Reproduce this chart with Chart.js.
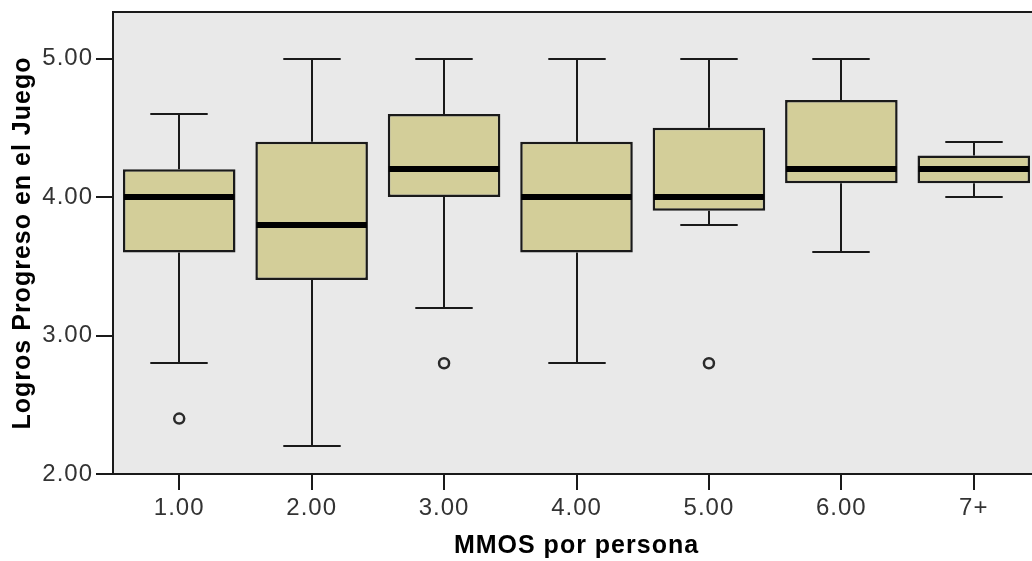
<!DOCTYPE html>
<html>
<head>
<meta charset="utf-8">
<script src="https://cdn.jsdelivr.net/npm/chart.js@4.4.1/dist/chart.umd.min.js"></script>
<style>
  html, body { margin: 0; padding: 0; background: #ffffff; overflow: hidden; }
  #wrap { width: 1032px; height: 561px; overflow: hidden; }
  canvas { display: block; }
</style>
</head>
<body>
<div id="wrap"><canvas id="c" width="1048" height="561"></canvas></div>
<script>
// ---- data ----
const categories = ['1.00', '2.00', '3.00', '4.00', '5.00', '6.00', '7+'];
const whiskerLow  = [2.8, 2.2, 3.2, 2.8, 3.8, 3.6, 4.0];
const q1          = [3.6, 3.4, 4.0, 3.6, 3.9, 4.1, 4.1];
const median      = [4.0, 3.8, 4.2, 4.0, 4.0, 4.2, 4.2];
const q3          = [4.2, 4.4, 4.6, 4.4, 4.5, 4.7, 4.3];
const whiskerHigh = [4.6, 5.0, 5.0, 5.0, 5.0, 5.0, 4.4];
const outliers    = [2.4, null, 2.8, null, 2.8, null, null];
const yTicks      = [2, 3, 4, 5];
const yMin = 2, yMax = 5.336;

const FONT = "'Liberation Sans', Arial, sans-serif";

function setSpacing(chart) {
  if ('letterSpacing' in chart.ctx) chart.ctx.letterSpacing = '1px';
}

const boxPlugin = {
  id: 'boxExtras',
  beforeInit: setSpacing,
  beforeUpdate: setSpacing,
  beforeLayout: setSpacing,
  beforeDraw(chart) {
    setSpacing(chart);
    const {ctx, chartArea: a} = chart;
    ctx.save();
    ctx.fillStyle = '#E9E9E9';
    ctx.fillRect(a.left, a.top, a.right - a.left, a.bottom - a.top);
    ctx.restore();
  },
  afterDatasetsDraw(chart) {
    const {ctx} = chart;
    const y = chart.scales.y;
    const meta = chart.getDatasetMeta(0);
    ctx.save();
    meta.data.forEach((bar, i) => {
      const cx = Math.round(bar.x);
      const w = bar.width;
      const capHalf = w * 0.255;
      const yHi = Math.round(y.getPixelForValue(whiskerHigh[i]));
      const yLo = Math.round(y.getPixelForValue(whiskerLow[i]));
      const yQ3 = y.getPixelForValue(q3[i]);
      const yQ1 = y.getPixelForValue(q1[i]);
      const yMed = Math.round(y.getPixelForValue(median[i]));
      ctx.strokeStyle = '#1a1a1a';
      ctx.lineWidth = 2;
      ctx.beginPath();
      ctx.moveTo(cx, yQ3); ctx.lineTo(cx, yHi);
      ctx.moveTo(cx - capHalf, yHi); ctx.lineTo(cx + capHalf, yHi);
      ctx.moveTo(cx, yQ1); ctx.lineTo(cx, yLo);
      ctx.moveTo(cx - capHalf, yLo); ctx.lineTo(cx + capHalf, yLo);
      ctx.stroke();
      ctx.strokeStyle = '#000000';
      ctx.lineWidth = 6;
      ctx.beginPath();
      ctx.moveTo(bar.x - w / 2 + 1, yMed); ctx.lineTo(bar.x + w / 2 - 1, yMed);
      ctx.stroke();
    });
    ctx.restore();
  },
  afterDraw(chart) {
    const {ctx, chartArea: a} = chart;
    ctx.save();
    ctx.strokeStyle = '#1a1a1a';
    ctx.lineWidth = 2;
    ctx.strokeRect(a.left, a.top, a.right - a.left, a.bottom - a.top);
    ctx.restore();
  }
};

new Chart(document.getElementById('c'), {
  type: 'bar',
  data: {
    labels: categories,
    datasets: [
      {
        type: 'bar',
        data: categories.map((_, i) => [q1[i], q3[i]]),
        backgroundColor: '#D3CE99',
        borderColor: '#1a1a1a',
        borderWidth: 2.5,
        borderSkipped: false,
        barPercentage: 0.85,
        categoryPercentage: 1.0,
        order: 2
      },
      {
        type: 'line',
        data: outliers,
        showLine: false,
        pointRadius: 5,
        pointHoverRadius: 5,
        pointBorderWidth: 2.5,
        pointBorderColor: '#2a2a2a',
        pointBackgroundColor: 'rgba(0,0,0,0)',
        order: 1
      }
    ]
  },
  options: {
    responsive: false,
    animation: false,
    devicePixelRatio: 1,
    layout: { padding: { top: 12, right: 8, left: 0, bottom: 0 } },
    plugins: { legend: { display: false }, tooltip: { enabled: false } },
    scales: {
      x: {
        offset: true,
        grid: { display: true, drawOnChartArea: false, drawTicks: true, tickLength: 16, offset: false, color: '#1a1a1a', lineWidth: 2 },
        border: { display: false },
        ticks: { color: '#333333', font: { family: FONT, size: 24 }, padding: 4, maxRotation: 0, autoSkip: false },
        title: { display: true, text: 'MMOS por persona', color: '#000000', font: { family: FONT, size: 25, weight: 'bold', lineHeight: 1.2 }, padding: { top: 0, bottom: 0 } },
        afterFit(s) { s.height = 87; s.paddingLeft = 0; s.paddingRight = 0; }
      },
      y: {
        min: yMin,
        max: yMax,
        grid: { display: true, drawOnChartArea: false, drawTicks: true, tickLength: 17, color: '#1a1a1a', lineWidth: 2 },
        border: { display: false },
        afterBuildTicks(s) { s.ticks = yTicks.map(v => ({ value: v })); },
        ticks: { color: '#333333', font: { family: FONT, size: 24 }, padding: 3, callback: v => Number(v).toFixed(2) },
        title: { display: true, text: 'Logros Progreso en el Juego', color: '#000000', font: { family: FONT, size: 25, weight: 'bold', lineHeight: 1.2 }, padding: { top: 8, bottom: 0 } },
        afterFit(s) { s.width = 113; s.paddingTop = 0; s.paddingBottom = 0; }
      }
    }
  },
  plugins: [boxPlugin]
});
</script>
</body>
</html>
